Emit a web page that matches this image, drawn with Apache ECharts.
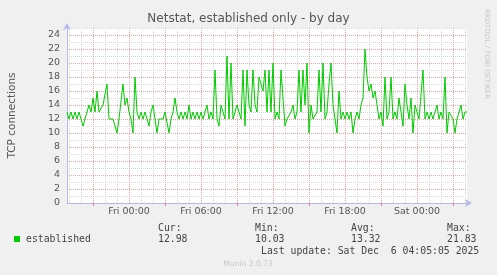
<!DOCTYPE html>
<html>
<head>
<meta charset="utf-8">
<script src="https://cdn.jsdelivr.net/npm/echarts@6/dist/echarts.min.js"></script>
<style>
html,body{margin:0;padding:0;background:#f0f0f0;}
#chart{width:497px;height:275px;}
</style>
</head>
<body>
<div id="chart"></div>
<script>
// established connections, 10-minute samples from Thu 18:50 to Sat 04:10
const established = [
13,12,13,12,13,12,13,12,11,12,13,14,13,15,13,16,13,13,14,14,
17,12,12,12,12,10,12,12,17,14,15,13,12,10,18,13,12,13,12,13,
12,11,13,14,12,10,12,12,12,13,13,10,12,13,15,13,12,13,12,13,
12,14,12,13,12,13,12,13,12,13,14,12,13,12,19,12,11,14,13,12,
21,12,20,12,13,14,13,12,19,11,19,14,13,19,14,13,18,17,16,19,
13,19,13,20,12,13,12,19,19,11,12,12,13,14,12,13,19,13,19,14,
20,10,14,12,12,13,19,13,20,12,13,17,20,14,14,10,16,12,13,12,
13,12,13,10,12,13,12,14,15,22,18,16,17,15,16,14,12,13,11,18,
12,13,18,12,13,12,15,15,11,17,14,12,15,10,14,13,12,12,19,12,
13,12,13,12,13,14,12,13,12,18,10,13,13,12,10,12,13,14,12,13,13
];
const dayNames = ["Thu","Fri","Sat"];
const tickLabels = ["Fri 00:00","Fri 06:00","Fri 12:00","Fri 18:00","Sat 00:00"];
const yTickLabels = [0,2,4,6,8,10,12,14,16,18,20,22,24];
const statNames = ["Cur:","Min:","Avg:","Max:"];
const statValues = ["12.98","10.03","13.32","21.83"];
const seriesName = "established";

// category labels (time of each sample)
const categories = [];
for (let i = 0; i < established.length; i++) {
  const m = 18*60 + 50 + i*10;
  const d = Math.floor(m / 1440), mm = m % 1440;
  const hh = String(Math.floor(mm/60)).padStart(2,"0");
  const mi = String(mm%60).padStart(2,"0");
  categories.push(dayNames[d] + " " + hh + ":" + mi);
}
const isHour = v => v.endsWith(":00");
const hourOf = v => parseInt(v.slice(4,6),10);

const RED = "#eaa3a3", GREY = "#d6d6d6", AXIS = "#b8b8ee", TXT = "#555";
const chart = echarts.init(document.getElementById("chart"), null, {renderer:"canvas"});
chart.setOption({
  animation:false,
  backgroundColor:"#f0f0f0",
  grid:{left:67, top:28, width:400, height:175, show:true, backgroundColor:"#ffffff", borderWidth:0},
  xAxis:{
    type:"category", boundaryGap:false, data:categories,
    axisLine:{lineStyle:{color:AXIS,width:1}, symbol:["none","arrow"], symbolSize:[6,7], symbolOffset:[0,5]},
    axisTick:{show:true, length:3, interval:(i,v)=> isHour(v) && hourOf(v)%6===3, lineStyle:{color:"#e88080"}},
    axisLabel:{interval:(i,v)=> tickLabels.includes(v), color:TXT, fontFamily:"DejaVu Sans", fontSize:9.5, margin:4},
    splitLine:{show:true, interval:(i,v)=> isHour(v), lineStyle:{color:[GREY,GREY,RED], type:[1,1], width:1}}
  },
  yAxis:{
    type:"value", min:0, max:25, interval:1,
    axisLine:{show:true, lineStyle:{color:AXIS,width:1}, symbol:["none","arrow"], symbolSize:[6,7], symbolOffset:[0,5]},
    axisTick:{show:false},
    axisLabel:{color:TXT, fontFamily:"DejaVu Sans", fontSize:9.5, margin:7,
      formatter:v=> yTickLabels.includes(v) ? String(v) : ""},
    splitLine:{show:true, lineStyle:{color:[RED,GREY], type:[1,1], width:1}}
  },
  series:[{
    name:seriesName, type:"line", data:established, showSymbol:false, symbol:"none",
    lineStyle:{color:"#00cc00", width:1}, itemStyle:{color:"#00cc00"}, z:5
  }],
  graphic:[
    {type:"text", left:"center", x:267, style:{text:"Netstat, established only - by day", x:267, y:19, align:"center", verticalAlign:"middle", fill:"#555", font:"12px 'DejaVu Sans'"}},
    {type:"text", x:12, y:115.5, rotation:Math.PI/2, style:{text:"TCP connections", align:"center", verticalAlign:"middle", fill:TXT, font:"10.5px 'DejaVu Sans'"}},
    {type:"text", x:487, y:54, rotation:-Math.PI/2, style:{text:"RRDTOOL / TOBI OETIKER", align:"center", verticalAlign:"middle", fill:"#c8c8c8", font:"7px 'DejaVu Sans'"}},
    {type:"rect", shape:{x:14, y:236, width:6, height:6}, style:{fill:"#00cc00"}},
    {type:"text", x:26, y:239.5, style:{text:seriesName, verticalAlign:"middle", fill:"#444", font:"9.8px 'DejaVu Sans Mono'"}},
    ...statNames.map((s,k)=>({type:"text", x:[158,255,351,447][k], y:228.5, style:{text:s, verticalAlign:"middle", fill:"#444", font:"9.8px 'DejaVu Sans Mono'"}})),
    ...statValues.map((s,k)=>({type:"text", x:[158,255,351,447][k], y:239.5, style:{text:s, verticalAlign:"middle", fill:"#444", font:"9.8px 'DejaVu Sans Mono'"}})),
    {type:"text", x:261, y:251.5, style:{text:"Last update: Sat Dec  6 04:05:05 2025", verticalAlign:"middle", fill:"#444", font:"9.8px 'DejaVu Sans Mono'"}},
    {type:"text", x:248, y:264, style:{text:"Munin 2.0.73", align:"center", verticalAlign:"middle", fill:"#c8c8c8", font:"7.6px 'DejaVu Sans'"}}
  ]
});
</script>
</body>
</html>
